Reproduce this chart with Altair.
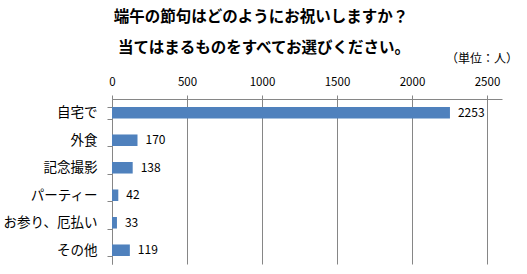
import altair as alt
import pandas as pd

categories = ["自宅で", "外食", "記念撮影", "パーティー", "お参り、厄払い", "その他"]
values = [2253, 170, 138, 42, 33, 119]
x_ticks = [0, 500, 1000, 1500, 2000, 2500]
title_lines = ["端午の節句はどのようにお祝いしますか？", "当てはまるものをすべてお選びください。"]
unit_label = "（単位：人）"

df = pd.DataFrame({"cat": categories, "val": values})
FONT = "Noto Sans CJK JP"

base = alt.Chart(df)

bars = base.mark_bar(color="#4F81BD").encode(
    x=alt.X("val:Q", scale=alt.Scale(domain=[0, 2500]),
            axis=alt.Axis(orient="top", values=x_ticks, format="d", title=None, grid=True,
                          gridColor="#868686", gridWidth=1, domainColor="#868686",
                          tickColor="#868686", tickSize=4, labelPadding=8,
                          labelFont=FONT, labelFontSize=11.5, labelColor="#000000",
                          labelFlush=False)),
    y=alt.Y("cat:N", sort=categories,
            scale=alt.Scale(paddingInner=0.58, paddingOuter=0.29),
            axis=alt.Axis(title=None, domainColor="#868686", tickColor="#868686",
                          tickSize=5, tickBand="extent", labelPadding=10,
                          labelFont=FONT, labelFontSize=13.5, labelColor="#000000")),
)

labels = base.mark_text(align="left", dx=8, font=FONT, fontSize=12, color="#000000").encode(
    x="val:Q", y=alt.Y("cat:N", sort=categories), text="val:Q"
)

t1 = alt.Chart(pd.DataFrame({"t": [title_lines[0]]})).mark_text(
    font=FONT, fontSize=15.5, fontWeight="bold", align="center", baseline="middle", color="#000000"
).encode(x=alt.value(149), y=alt.value(-82), text="t:N")
t2 = alt.Chart(pd.DataFrame({"t": [title_lines[1]]})).mark_text(
    font=FONT, fontSize=15.5, fontWeight="bold", align="center", baseline="middle", color="#000000"
).encode(x=alt.value(152), y=alt.value(-51), text="t:N")
unit = alt.Chart(pd.DataFrame({"t": [unit_label]})).mark_text(
    font=FONT, fontSize=12, align="right", baseline="middle", color="#000000"
).encode(x=alt.value(406), y=alt.value(-40), text="t:N")

chart = alt.layer(bars, labels, t1, t2, unit).properties(
    width=390, height=165,
    autosize=alt.AutoSizeParams(type="none"),
    padding={"left": 112, "top": 99, "right": 15, "bottom": 2},
    background="#ffffff",
).configure_view(stroke=None)

chart.save("out.html", embed_options={"renderer": "svg", "actions": False})
